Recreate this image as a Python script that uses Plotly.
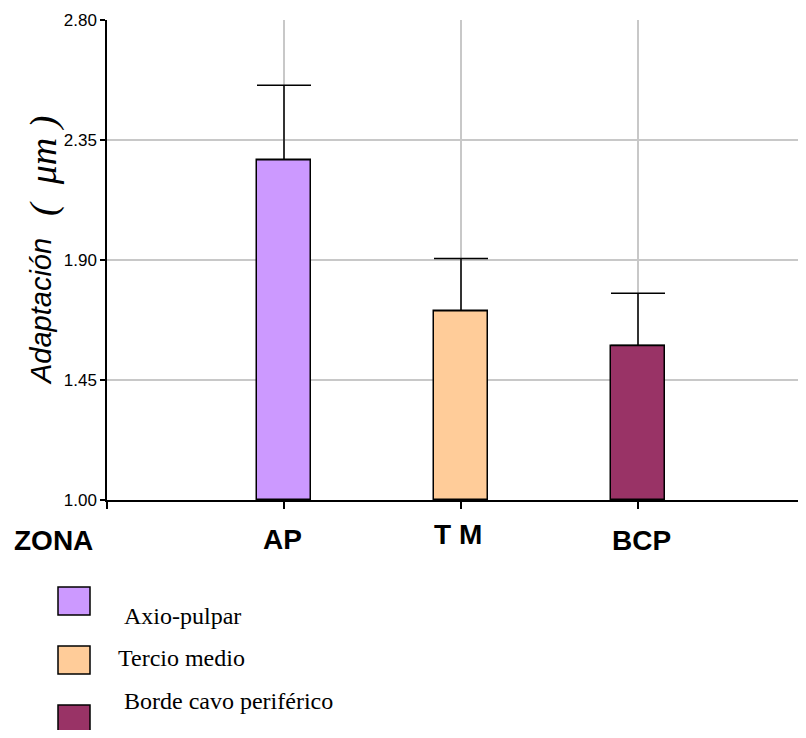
import plotly.graph_objects as go

# ---- data ----
zones = ["AP", "T M", "BCP"]
zone_pos = [1, 2, 3]
legend_names = ["Axio-pulpar", "Tercio medio", "Borde cavo periférico"]
means = [2.276, 1.710, 1.579]
upper = [2.555, 1.906, 1.775]
colors = ["#CC99FF", "#FFCC99", "#993366"]
y_ticks = [1.00, 1.45, 1.90, 2.35, 2.80]
y_ticktext = ["1.00", "1.45", "1.90", "2.35", "2.80"]

# page body has an 8px margin: figure is drawn at screen (8, 8)
OFF = 8
W, H = 790, 722
L, R, T, B = 99, 0, 12, 230
PW, PH = W - L - R, H - T - B
UNIT = 177.0  # px per category step


def px(xs):
    return (xs - OFF - L) / PW


def py(ys):
    return (H - B - (ys - OFF)) / PH


fig = go.Figure()
for i in range(3):
    fig.add_trace(go.Bar(
        x=[zone_pos[i]], y=[means[i] - 1.0], base=1.0,
        width=0.305, name=legend_names[i],
        marker=dict(color=colors[i], line=dict(color="black", width=1.5)),
        error_y=dict(type="data", symmetric=False,
                     array=[upper[i] - means[i]], arrayminus=[0],
                     color="black", thickness=1.5, width=27),
        showlegend=False,
    ))

fig.update_layout(
    width=W, height=H,
    margin=dict(l=L, r=R, t=T, b=B, pad=0),
    paper_bgcolor="white", plot_bgcolor="white",
    bargap=0,
)
fig.update_xaxes(
    range=[0, PW / UNIT], tickvals=[0] + zone_pos, showticklabels=False,
    showgrid=True, gridcolor="#C8C8C8", gridwidth=1.5, zeroline=False,
    showline=True, linecolor="black", linewidth=1.5,
    ticks="outside", ticklen=7, tickcolor="black", tickwidth=1.5,
)
fig.update_yaxes(
    range=[1.0, 2.8], tickvals=y_ticks, ticktext=y_ticktext,
    showgrid=True, gridcolor="#C8C8C8", gridwidth=1.5, zeroline=False,
    showline=True, linecolor="black", linewidth=1.5,
    ticks="outside", ticklen=5, tickcolor="black", tickwidth=1.5,
    tickfont=dict(family="Liberation Sans, Arial", size=17, color="black"),
)

ann = []
# y-axis title (two parts: sans word + serif unit)
ann.append(dict(
    x=px(41), y=py(312), xref="paper", yref="paper", textangle=-90,
    showarrow=False, xanchor="center", yanchor="middle",
    text="<i>Adaptación</i>",
    font=dict(family="Liberation Sans, Arial", size=29, color="black"),
))
ann.append(dict(
    x=px(43), y=py(166), xref="paper", yref="paper", textangle=-90,
    showarrow=False, xanchor="center", yanchor="middle",
    text="<i>(&nbsp;&nbsp;μm&nbsp;)</i>",
    font=dict(family="Liberation Serif, Times New Roman", size=38, color="black"),
))
# category labels
cat_x = [px(53), px(282), px(458), px(641)]
cat_y = [py(540), py(539), py(534), py(540)]
cat_t = ["ZONA"] + zones
for xx, yy, tt in zip(cat_x, cat_y, cat_t):
    ann.append(dict(x=xx, y=yy, xref="paper", yref="paper", text="<b>" + tt + "</b>",
                    showarrow=False, xanchor="center", yanchor="middle",
                    font=dict(family="Liberation Sans, Arial", size=28, color="black")))

# legend
sq_top = [587, 646, 705]
sq_bot = [615, 674, 734]
txt_x = [122, 116, 122]
txt_y = [616, 658, 701]
shapes = []
for i in range(3):
    shapes.append(dict(type="rect", xref="paper", yref="paper",
                       x0=px(58), x1=px(90), y0=py(sq_bot[i]), y1=py(sq_top[i]),
                       fillcolor=colors[i], line=dict(color="black", width=1.5)))
    ann.append(dict(x=px(txt_x[i]), y=py(txt_y[i]), xref="paper", yref="paper",
                    text=legend_names[i], showarrow=False, xanchor="left", yanchor="middle",
                    font=dict(family="Liberation Serif, Times New Roman", size=24, color="black")))

fig.update_layout(annotations=ann, shapes=shapes)
fig.write_html("out.html")
